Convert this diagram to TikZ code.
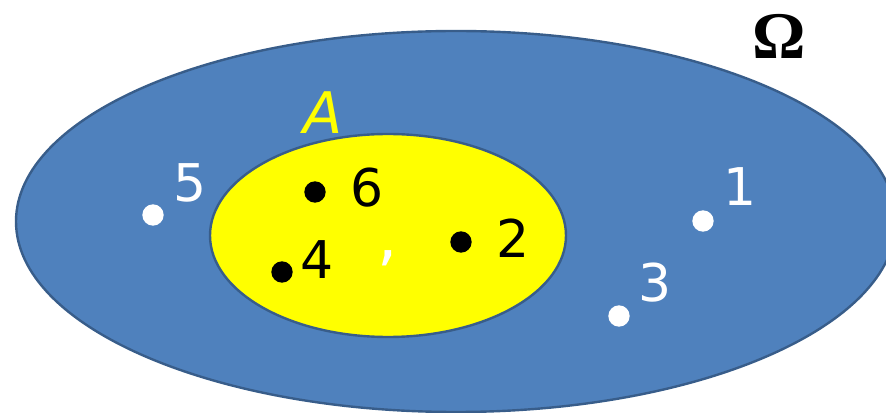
\documentclass[tikz,border=0pt]{standalone}
\usepackage{fontspec}
\setmainfont{DejaVu Sans}
\newfontfamily\omegafont{Liberation Serif}
\usetikzlibrary{shapes.geometric,positioning}
\definecolor{setblue}{RGB}{79,129,189}
\definecolor{setline}{RGB}{56,93,138}
\definecolor{setyellow}{RGB}{255,255,0}

\begin{document}
\begin{tikzpicture}[
  x=0.75pt, y=-0.75pt,
  set/.style={ellipse, draw=setline, line width=1.8pt, inner sep=0pt},
  elem/.style={circle, inner sep=0pt, minimum size=16pt},
  lbl/.style={font=\fontsize{39}{47}\selectfont, inner sep=0pt}
]
  \useasboundingbox (0,0) rectangle (886,413);
  \clip (0,0) rectangle (886,413);

  % Sample space and event A
  \node[set, fill=setblue, minimum width=660pt, minimum height=285.75pt] (Om) at (456,221.5) {};
  \node[set, fill=setyellow, minimum width=267pt, minimum height=152.25pt] (A) at (388,235.5) {};
  \node[inner sep=0pt, font=\omegafont\bfseries\fontsize{50}{60}\selectfont] (OmLbl) at (779,36) {Ω};
  \node[inner sep=0pt, text=setyellow, font=\itshape\fontsize{43}{52}\selectfont] (ALbl) at (323,113) {A};

  % Outcomes outside A
  \node[elem, fill=white] (d5) at (153,215) {};
  \node[elem, fill=white] (d1) at (703,221) {};
  \node[elem, fill=white] (d3) at (619,316) {};
  \node[lbl, text=white] (l5) at (190,183) {5};
  \node[lbl, text=white] (l1) at (740,187) {1};
  \node[lbl, text=white] (l3) at (655,283) {3};

  % Outcomes in A
  \node[elem, fill=black] (d6) at (315,192) {};
  \node[elem, fill=black] (d4) at (282,272) {};
  \node[elem, fill=black] (d2) at (461,242) {};
  \node[lbl] (l6) at (367,188) {6};
  \node[lbl] (l4) at (317,260) {4};
  \node[lbl] (l2) at (513,238) {2};
  \node[inner sep=0pt, text=white, font=\fontsize{48}{56}\selectfont] (comma) at (388,258) {,};

\end{tikzpicture}
\end{document}
